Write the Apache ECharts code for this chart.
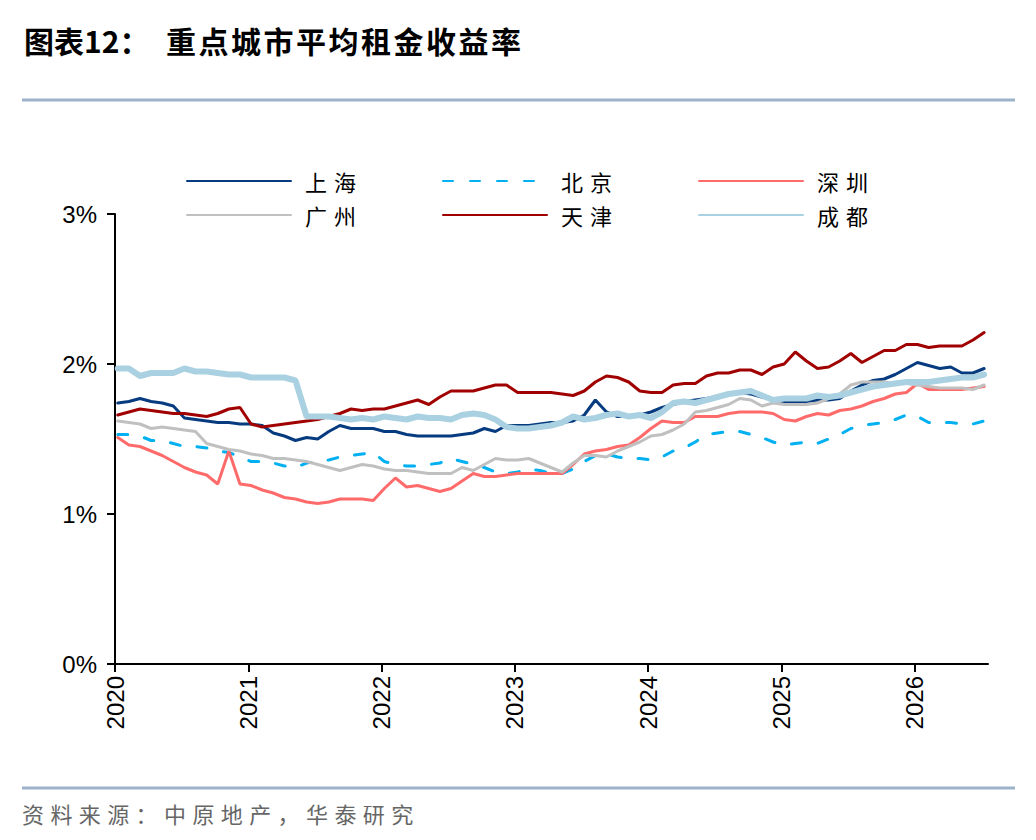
<!DOCTYPE html>
<html><head><meta charset="utf-8">
<script src="https://cdn.jsdelivr.net/npm/echarts@6/dist/echarts.min.js"></script>
<style>html,body{margin:0;padding:0;background:#fff}#c{width:1036px;height:840px}</style>
</head><body><div id="c"></div>
<script>
// ---- data ----
const startYear = 2020;
const years = [2020, 2021, 2022, 2023, 2024, 2025, 2026];
const yTicks = [0, 1, 2, 3];
const seriesNames = ['上海', '北京', '深圳', '广州', '天津', '成都'];
const titlePrefix = '图表12：';
const titleMain = '重点城市平均租金收益率';
const sourceText = '资料来源：中原地产，华泰研究';

const shanghai = [1.74,1.75,1.77,1.75,1.74,1.72,1.64,1.63,1.62,1.61,
  1.61,1.60,1.60,1.59,1.54,1.52,1.49,1.51,1.50,1.55,
  1.59,1.57,1.57,1.57,1.55,1.55,1.53,1.52,1.52,1.52,
  1.52,1.53,1.54,1.57,1.55,1.59,1.59,1.59,1.60,1.61,
  1.61,1.62,1.66,1.76,1.68,1.65,1.65,1.66,1.68,1.71,
  1.73,1.75,1.76,1.77,1.78,1.80,1.81,1.80,1.78,1.76,
  1.75,1.75,1.75,1.76,1.76,1.77,1.82,1.86,1.89,1.90,
  1.93,1.97,2.01,1.99,1.97,1.98,1.94,1.94,1.97];
const beijing = [1.53,1.53,1.52,1.49,1.49,1.47,1.45,1.45,1.44,1.42,
  1.41,1.38,1.35,1.35,1.34,1.32,1.31,1.34,1.35,1.36,
  1.38,1.39,1.40,1.41,1.35,1.33,1.32,1.32,1.33,1.34,
  1.37,1.35,1.33,1.31,1.28,1.27,1.28,1.30,1.29,1.27,
  1.27,1.30,1.35,1.39,1.40,1.38,1.37,1.37,1.36,1.38,
  1.42,1.44,1.48,1.53,1.54,1.55,1.55,1.53,1.51,1.48,
  1.46,1.47,1.48,1.47,1.50,1.53,1.57,1.59,1.60,1.61,
  1.63,1.66,1.65,1.61,1.61,1.61,1.60,1.60,1.62];
const shenzhen = [1.51,1.46,1.45,1.42,1.39,1.35,1.31,1.28,1.26,1.20,
  1.42,1.20,1.19,1.16,1.14,1.11,1.10,1.08,1.07,1.08,
  1.10,1.10,1.10,1.09,1.17,1.24,1.18,1.19,1.17,1.15,
  1.17,1.22,1.27,1.25,1.25,1.26,1.27,1.27,1.27,1.27,
  1.27,1.33,1.40,1.42,1.43,1.45,1.46,1.51,1.57,1.62,
  1.61,1.61,1.65,1.65,1.65,1.67,1.68,1.68,1.68,1.67,
  1.63,1.62,1.65,1.67,1.66,1.69,1.70,1.72,1.75,1.77,
  1.80,1.81,1.87,1.83,1.83,1.83,1.83,1.84,1.85];
const guangzhou = [1.62,1.61,1.60,1.57,1.58,1.57,1.56,1.55,1.47,1.45,
  1.43,1.42,1.40,1.39,1.37,1.37,1.36,1.35,1.33,1.31,
  1.29,1.31,1.33,1.32,1.30,1.29,1.29,1.28,1.27,1.27,
  1.27,1.31,1.29,1.33,1.37,1.36,1.36,1.37,1.34,1.31,
  1.28,1.34,1.39,1.39,1.38,1.42,1.45,1.48,1.52,1.53,
  1.56,1.60,1.68,1.69,1.71,1.73,1.77,1.76,1.72,1.74,
  1.73,1.73,1.73,1.74,1.77,1.80,1.86,1.88,1.88,1.88,
  1.87,1.87,1.86,1.85,1.84,1.84,1.84,1.83,1.86];
const tianjin = [1.66,1.68,1.70,1.69,1.68,1.67,1.67,1.66,1.65,1.67,
  1.70,1.71,1.60,1.58,1.59,1.60,1.61,1.62,1.63,1.65,
  1.67,1.70,1.69,1.70,1.70,1.72,1.74,1.76,1.73,1.78,
  1.82,1.82,1.82,1.84,1.86,1.86,1.81,1.81,1.81,1.81,
  1.80,1.79,1.82,1.88,1.92,1.91,1.88,1.82,1.81,1.81,
  1.86,1.87,1.87,1.92,1.94,1.94,1.96,1.96,1.93,1.98,
  2.00,2.08,2.02,1.97,1.98,2.02,2.07,2.01,2.05,2.09,
  2.09,2.13,2.13,2.11,2.12,2.12,2.12,2.16,2.21];
const chengdu = [1.97,1.97,1.92,1.94,1.94,1.94,1.97,1.95,1.95,1.94,
  1.93,1.93,1.91,1.91,1.91,1.91,1.89,1.65,1.65,1.65,
  1.64,1.63,1.64,1.63,1.65,1.64,1.63,1.65,1.64,1.64,
  1.63,1.66,1.67,1.66,1.63,1.58,1.57,1.57,1.58,1.59,
  1.61,1.65,1.63,1.64,1.66,1.67,1.65,1.66,1.64,1.68,
  1.74,1.75,1.74,1.76,1.78,1.80,1.81,1.82,1.79,1.76,
  1.77,1.77,1.77,1.79,1.78,1.79,1.81,1.83,1.85,1.86,
  1.87,1.88,1.88,1.88,1.89,1.90,1.91,1.91,1.93];

// month positions (monthly observations from Jan 2020)
const monthPos = shanghai.map((_, i) => startYear + (i + 0.25) / 12);
const pair = arr => arr.map((v, i) => [monthPos[i], v]);

const styles = [
  {color: '#063B7F', width: 3, type: 'solid'},
  {color: '#00B0F0', width: 3, type: [10, 17]},
  {color: '#FF6B6B', width: 3, type: 'solid'},
  {color: '#C0C0C0', width: 3, type: 'solid'},
  {color: '#A00000', width: 3, type: 'solid'},
  {color: '#A9D1E1', width: 6, type: 'solid'}
];
const allData = [shanghai, beijing, shenzhen, guangzhou, tianjin, chengdu];

const chart = echarts.init(document.getElementById('c'), null, {renderer: 'svg'});
const legendCommon = {
  left: 186, padding: 0, itemWidth: 104, itemHeight: 14, itemGap: 93,
  itemStyle: {opacity: 0},
  textStyle: {fontSize: 22, color: '#000', fontFamily: 'Noto Sans CJK SC', padding: [0, 0, 0, 9]}
};
chart.setOption({
  animation: false,
  backgroundColor: '#fff',
  legend: [
    Object.assign({data: seriesNames.slice(0, 3), top: 170}, legendCommon),
    Object.assign({data: seriesNames.slice(3, 6), top: 204}, legendCommon)
  ],
  grid: {left: 115, right: 48, top: 214, bottom: 176, containLabel: false},
  xAxis: {
    type: 'value', min: 2020, max: 2026.55, interval: 1,
    splitLine: {show: false},
    axisLine: {lineStyle: {color: '#000', width: 2}},
    axisTick: {show: true, length: 8, lineStyle: {color: '#000', width: 2}, customValues: years},
    axisLabel: {
      customValues: years, rotate: 90, margin: 12,
      fontSize: 24, color: '#000', fontFamily: 'Liberation Sans',
      formatter: v => String(v)
    }
  },
  yAxis: {
    type: 'value', min: 0, max: 3, interval: 1,
    splitLine: {show: false},
    axisLine: {show: true, lineStyle: {color: '#000', width: 2}},
    axisTick: {show: true, length: 8, lineStyle: {color: '#000', width: 2}},
    axisLabel: {
      margin: 18, fontSize: 24, color: '#000', fontFamily: 'Liberation Sans',
      formatter: v => v + '%'
    }
  },
  series: seriesNames.map((name, k) => ({
    name, type: 'line', symbol: 'none', smooth: false,
    data: pair(allData[k]),
    lineStyle: {color: styles[k].color, width: styles[k].width, type: styles[k].type, cap: 'round'},
    itemStyle: {color: styles[k].color}
  })),
  graphic: [
    {type: 'line', shape: {x1: 22, y1: 100, x2: 1015, y2: 100}, style: {stroke: '#9DB3CB', lineWidth: 3}},
    {type: 'line', shape: {x1: 22, y1: 788, x2: 1015, y2: 788}, style: {stroke: '#9DB3CB', lineWidth: 3}},
    {type: 'text', x: 24, y: 40, style: {text: titlePrefix, fill: '#000', fontSize: 30, fontWeight: 'bold', fontFamily: 'Noto Sans CJK SC', verticalAlign: 'middle'}},
    {type: 'text', x: 166, y: 40, style: {text: titleMain, fill: '#000', fontSize: 30, fontWeight: 'bold', fontFamily: 'Noto Sans CJK SC', verticalAlign: 'middle'}},
    {type: 'text', x: 22, y: 813, style: {text: sourceText, fill: '#666', fontSize: 22, fontFamily: 'Noto Sans CJK SC', verticalAlign: 'middle'}}
  ]
});
// widen the character spacing of the title, legend and source line as in the reference
document.querySelectorAll('#c svg text').forEach(t => {
  const s = t.textContent;
  if (s === titleMain) t.setAttribute('letter-spacing', '2.5');
  if (s === sourceText) t.setAttribute('letter-spacing', '6.4');
  if (seriesNames.includes(s)) t.setAttribute('letter-spacing', '7');
});
</script></body></html>
